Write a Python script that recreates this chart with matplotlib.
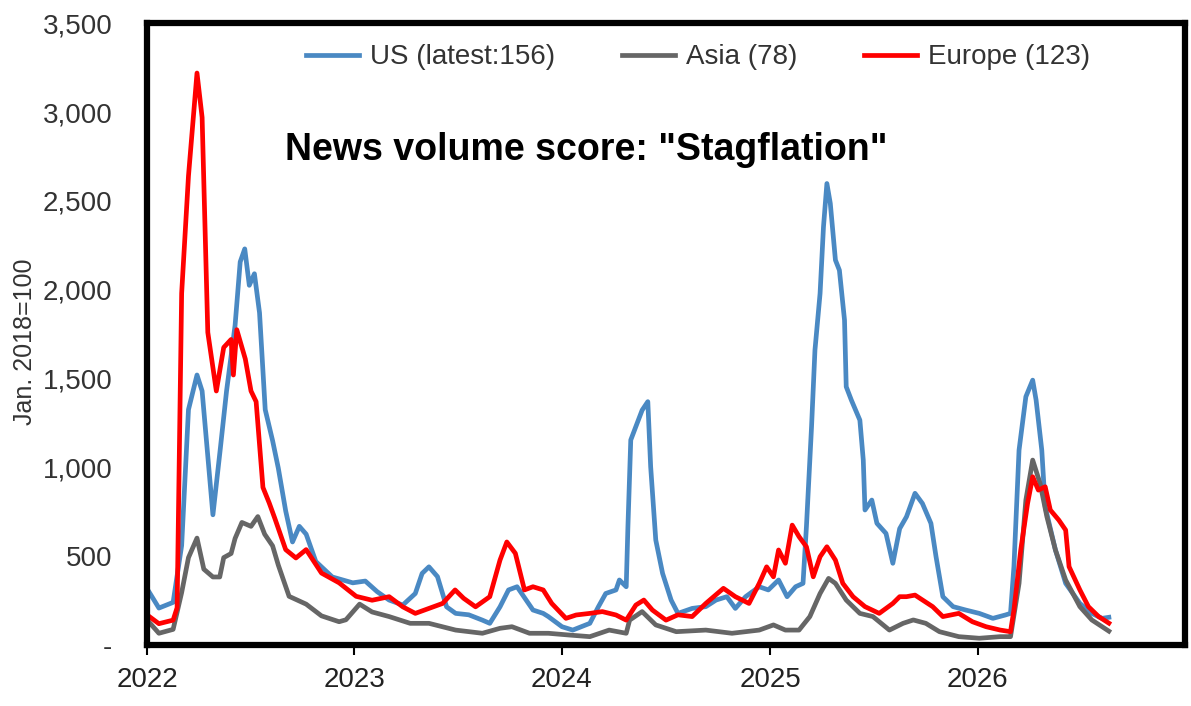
"""
News volume score for "Stagflation" - US, Asia, Europe
"""
import numpy as np
from matplotlib import pyplot as plt
import matplotlib.dates as mdates
from matplotlib.ticker import FuncFormatter

plt.rcParams['font.family'] = ['Liberation Sans Narrow', 'Liberation Sans', 'DejaVu Sans']

# months since Jan 2022, values (Jan. 2018 = 100)
us_months = [0, 0.7, 1.5, 2.0, 2.4, 2.9, 3.2, 3.8, 4.25, 4.6, 5.1, 5.4, 5.65, 5.9, 6.2, 6.5,
             6.85, 7.25, 7.6, 8.0, 8.4, 8.8, 9.2, 9.75, 10.7, 11.9, 12.6, 13.3, 14.0, 14.8,
             15.5, 15.9, 16.3, 16.8, 17.3, 17.85, 18.6, 19.4, 19.8, 20.4, 20.9, 21.4, 21.9,
             22.3, 22.9, 23.2, 24.0, 24.6, 25.6, 26.1, 26.5, 27.1, 27.3, 27.7, 27.8, 27.95,
             28.25, 28.6, 28.95, 29.1, 29.4, 29.8, 30.3, 30.7, 31.5, 32.3, 32.9, 33.5, 34.0,
             34.6, 35.4, 35.9, 36.5, 37.0, 37.5, 37.9, 38.1, 38.4, 38.6, 38.9, 39.1, 39.3,
             39.5, 39.8, 40.0, 40.3, 40.4, 40.7, 41.2, 41.4, 41.5, 41.9, 42.2, 42.7, 43.1,
             43.5, 43.9, 44.4, 44.8, 45.3, 45.6, 46.0, 46.6, 47.3, 48.1, 48.9, 49.6, 49.9,
             50.1, 50.4, 50.8, 51.2, 51.4, 51.7, 51.9, 52.5, 53.1, 53.9, 54.6, 55.2, 55.6]
us_values = [318, 208, 240, 560, 1325, 1520, 1430, 733, 1105, 1430, 1800, 2157, 2230, 2025, 2090, 1870,
             1325, 1150, 996, 755, 580, 668, 624, 470, 383, 350, 360, 300, 253, 225,
             290, 403, 440, 385, 215, 178, 170, 140, 122, 215, 310, 328, 253,
             197, 178, 160, 103, 84, 122, 215, 290, 310, 366, 328, 666, 1154,
             1230, 1322, 1370, 1004, 591, 403, 253, 178, 206, 216, 253, 272, 206,
             272, 328, 310, 366, 272, 328, 347, 666, 1229, 1660, 1979, 2354, 2598,
             2486, 2167, 2110, 1829, 1454, 1379, 1266, 1041, 760, 816, 685, 628, 460,
             655, 722, 854, 797, 685, 497, 272, 216, 197, 178, 150, 169, 178,
             441, 1097, 1398, 1491, 1379, 1097, 779, 535, 347, 234, 178, 150, 156]

asia_months = [0, 0.7, 1.5, 2.0, 2.4, 2.9, 3.3, 3.8, 4.2, 4.45, 4.85, 5.1, 5.5, 6.0, 6.4, 6.8,
               7.25, 7.6, 8.2, 9.2, 10.1, 11.1, 11.5, 12.3, 13.0, 14.0, 15.2, 16.3, 17.85,
               19.4, 20.4, 21.1, 22.1, 23.2, 24.4, 25.6, 26.7, 27.7, 27.9, 28.6, 29.4, 30.6,
               32.3, 33.8, 35.4, 36.2, 36.9, 37.7, 38.3, 38.9, 39.4, 39.8, 40.4, 41.2, 41.95,
               42.9, 43.7, 44.3, 45.0, 45.8, 46.9, 48.1, 49.3, 49.9, 50.4, 50.8, 51.2, 51.6,
               52.0, 52.5, 53.1, 53.9, 54.6, 55.6]
asia_values = [142, 66, 88, 295, 492, 602, 427, 383, 383, 492, 515, 600, 690, 668, 723, 624,
               558, 450, 274, 230, 164, 131, 142, 230, 186, 160, 122, 122, 84,
               66, 94, 103, 66, 66, 56, 47, 84, 66, 140, 188, 113, 75,
               84, 66, 84, 113, 84, 84, 160, 290, 375, 347, 253, 178, 160,
               84, 122, 141, 122, 75, 47, 38, 47, 47, 347, 816, 1041, 910,
               722, 535, 366, 216, 141, 78]

europe_months = [0, 0.7, 1.5, 1.75, 2.0, 2.4, 2.9, 3.2, 3.5, 4.0, 4.45, 4.85, 5.0, 5.2, 5.7, 6.0,
                 6.3, 6.7, 7.05, 7.4, 8.0, 8.6, 9.2, 10.1, 11.1, 12.1, 13.0, 14.0, 14.8, 15.5,
                 16.3, 17.1, 17.8, 18.3, 19.0, 19.8, 20.4, 20.8, 21.3, 21.8, 22.3, 22.9, 23.4,
                 24.2, 24.8, 25.6, 26.3, 27.1, 27.7, 28.25, 28.7, 29.2, 30.0, 30.7, 31.5, 32.3,
                 33.3, 34.0, 34.8, 35.4, 35.8, 36.2, 36.5, 36.9, 37.3, 37.7, 38.1, 38.5, 38.9,
                 39.3, 39.8, 40.2, 40.8, 41.5, 42.3, 43.1, 43.5, 43.9, 44.4, 45.4, 46.0, 46.9,
                 47.7, 48.5, 49.3, 49.9, 50.1, 50.5, 50.9, 51.2, 51.5, 51.9, 52.2, 52.7, 53.1,
                 53.3, 53.9, 54.4, 55.0, 55.6]
europe_values = [170, 120, 140, 210, 1980, 2640, 3220, 2970, 1760, 1430, 1675, 1720, 1520, 1775, 1610, 1430,
                 1370, 887, 800, 712, 537, 490, 537, 405, 350, 274, 252, 272, 215, 178,
                 206, 234, 310, 263, 215, 272, 478, 580, 516, 310, 328, 310, 234,
                 150, 169, 178, 188, 169, 140, 225, 253, 197, 140, 170, 160, 234,
                 319, 272, 234, 347, 440, 384, 535, 460, 675, 610, 553, 384, 497,
                 553, 478, 347, 272, 216, 178, 234, 272, 272, 281, 216, 160, 178,
                 131, 103, 84, 75, 197, 535, 797, 947, 872, 891, 760, 703, 647,
                 441, 310, 216, 160, 123]

series_labels = ['US (latest:156)', 'Asia (78)', 'Europe (123)']
series_colors = ['#4a89c3', '#666666', '#ff0000']
year_ticks = [2022, 2023, 2024, 2025, 2026]


def to_dates(months):
    days = np.round(np.array(months) * 30.4375).astype(int)
    return np.datetime64('2022-01-01') + days.astype('timedelta64[D]')


fig = plt.figure(figsize=(11.91, 7.06), dpi=100)
ax = fig.add_axes([0.1234, 0.0864, 0.8716, 0.8806])

all_series = [(us_months, us_values), (asia_months, asia_values), (europe_months, europe_values)]
for (months, values), label, color in zip(all_series, series_labels, series_colors):
    ax.plot(to_dates(months), values, color=color, linewidth=3.4, label=label,
            solid_joinstyle='round')

ax.set_xlim(np.datetime64('2022-01-01'), np.datetime64('2027-01-01'))
ax.set_ylim(0, 3500)
ax.set_yticks(range(0, 3501, 500))
ax.yaxis.set_major_formatter(FuncFormatter(lambda v, p: '-' if v == 0 else f'{v:,.0f}'))
ax.set_xticks([np.datetime64(f'{y}-01-01') for y in year_ticks])
ax.xaxis.set_major_formatter(mdates.DateFormatter('%Y'))

ax.tick_params(axis='y', length=0, pad=25, labelsize=20, labelcolor='#333333')
ax.tick_params(axis='x', direction='out', length=7, width=1.5, pad=9, labelsize=20,
               labelcolor='#222222')
for spine in ax.spines.values():
    spine.set_linewidth(4.5)
    spine.set_color('black')

ax.set_ylabel('Jan. 2018=100', fontsize=18, color='#333333', va='center')
ax.yaxis.set_label_coords(-0.1175, 0.487)

ax.text(0.423, 0.796, 'News volume score: "Stagflation"', transform=ax.transAxes,
        ha='center', va='center', fontsize=27, fontweight='bold', color='black')

ax.legend(loc='center', bbox_to_anchor=(0.531, 0.945), ncol=3, frameon=False,
          fontsize=20, handlelength=1.9, handletextpad=0.4, columnspacing=2.4,
          labelcolor='#333333')

plt.savefig('out.png', dpi=100)
